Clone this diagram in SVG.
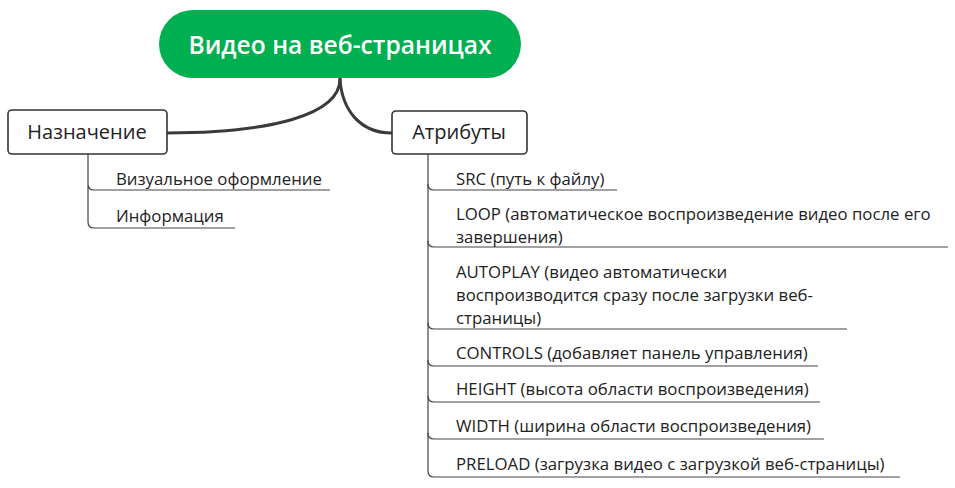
<svg xmlns="http://www.w3.org/2000/svg" width="955" height="488" viewBox="0 0 955 488">
<style>
.main{fill:none;stroke:#3a3a3a;stroke-width:3;stroke-linecap:round}
.sub{fill:none;stroke:#444;stroke-width:1.2}
.box{fill:#fff;stroke:#333;stroke-width:1.6}
.t{font-family:"Open Sans","Noto Sans",sans-serif;fill:#222}
.lbl{font-size:16.8px}
.cat{font-size:20px;text-anchor:middle}
.root{font-family:"Open Sans","Noto Sans",sans-serif;font-size:24.6px;font-weight:600;fill:#fff;text-anchor:middle}
</style>
<rect width="955" height="488" fill="#fff"/>
<g id="connectors">
<path class="main" d="M340,79 C340,115 270,133 167,133"/>
<path class="main" d="M340,79 C342,110 360,133 392,133"/>
<path class="sub" d="M88,154 V184 Q88,190 94,190 H330 M88,184 V222 Q88,228 94,228 H235"/>
<path class="sub" d="M428,154 V184 Q428,190 434,190 H617"/>
<path class="sub" d="M428,184 V241 Q428,247 434,247 H948"/>
<path class="sub" d="M428,241 V323 Q428,329 434,329 H847"/>
<path class="sub" d="M428,323 V360 Q428,366 434,366 H818"/>
<path class="sub" d="M428,360 V396 Q428,402 434,402 H820"/>
<path class="sub" d="M428,396 V433 Q428,439 434,439 H824"/>
<path class="sub" d="M428,433 V471 Q428,477 434,477 H900"/>
</g>
<g id="root">
<rect x="159" y="10" width="362" height="68" rx="34" fill="#00af50"/>
<text class="root" x="340" y="54">Видео на веб-страницах</text>
</g>
<g id="naznachenie">
<rect class="box" x="8" y="110" width="159" height="44" rx="4"/>
<text class="t cat" x="87" y="139">Назначение</text>
</g>
<g id="atributy">
<rect class="box" x="392" y="111" width="135" height="43" rx="4"/>
<text class="t cat" x="459" y="139">Атрибуты</text>
</g>
<g id="vizual"><text class="t lbl" x="116" y="185">Визуальное оформление</text></g>
<g id="info"><text class="t lbl" x="116" y="222">Информация</text></g>
<g id="src"><text class="t lbl" x="456" y="185">SRC (путь к файлу)</text></g>
<g id="loop"><text class="t lbl" x="456" y="220">LOOP (автоматическое воспроизведение видео после его</text><text class="t lbl" x="456" y="243">завершения)</text></g>
<g id="autoplay"><text class="t lbl" x="456" y="278">AUTOPLAY (видео автоматически</text><text class="t lbl" x="456" y="301">воспроизводится сразу после загрузки веб-</text><text class="t lbl" x="456" y="324">страницы)</text></g>
<g id="controls"><text class="t lbl" x="456" y="359">CONTROLS (добавляет панель управления)</text></g>
<g id="height"><text class="t lbl" x="456" y="395">HEIGHT (высота области воспроизведения)</text></g>
<g id="width"><text class="t lbl" x="456" y="432">WIDTH (ширина области воспроизведения)</text></g>
<g id="preload"><text class="t lbl" x="456" y="470">PRELOAD (загрузка видео с загрузкой веб-страницы)</text></g>
</svg>
